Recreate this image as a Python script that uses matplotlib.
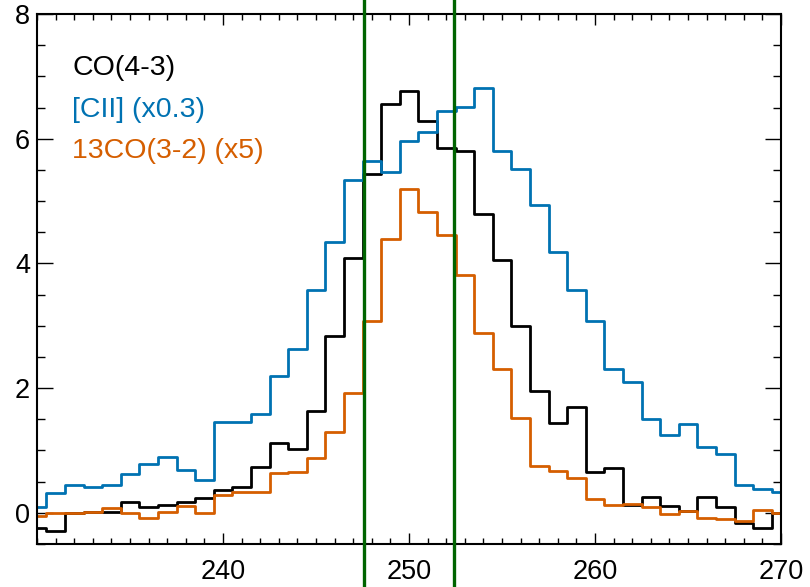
import numpy as np
import matplotlib
matplotlib.use('Agg')
import matplotlib.pyplot as plt
import matplotlib.transforms as mtransforms

plt.rcParams['font.family'] = ['Liberation Sans', 'DejaVu Sans']

# velocity channels (bin centres)
velocity = np.arange(230, 271, 1)

co43 = [-0.24, -0.29, 0.00, 0.02, 0.02, 0.18, 0.10, 0.13, 0.17, 0.24,
        0.37, 0.42, 0.74, 1.12, 1.03, 1.63, 2.83, 4.08, 5.44, 6.55,
        6.77, 6.29, 5.85, 5.80, 4.80, 4.06, 2.99, 1.95, 1.44, 1.70,
        0.66, 0.72, 0.13, 0.25, 0.11, 0.03, 0.25, 0.10, -0.17, -0.24,
        -0.01]

cii = [0.09, 0.31, 0.44, 0.42, 0.45, 0.63, 0.78, 0.89, 0.69, 0.52,
       1.45, 1.45, 1.58, 2.20, 2.62, 3.58, 4.35, 5.34, 5.64, 5.46,
       5.96, 6.11, 6.44, 6.51, 6.82, 5.81, 5.52, 4.93, 4.18, 3.58,
       3.07, 2.30, 2.09, 1.51, 1.24, 1.43, 1.05, 0.94, 0.45, 0.38,
       0.33]

co13 = [-0.05, 0.00, 0.00, 0.01, 0.07, 0.00, -0.08, 0.02, 0.11, 0.00,
        0.28, 0.33, 0.33, 0.64, 0.66, 0.88, 1.29, 1.92, 3.07, 4.39,
        5.19, 4.82, 4.45, 3.82, 2.88, 2.30, 1.52, 0.75, 0.67, 0.56,
        0.22, 0.13, 0.14, 0.09, -0.02, 0.03, -0.08, -0.10, -0.13, 0.05,
        -0.01]

labels = ['CO(4-3)', '[CII] (x0.3)', '13CO(3-2) (x5)']
colors = ['black', '#0072B2', '#D55E00']
vlines = [247.6, 252.4]

fig = plt.figure(figsize=(8.10, 5.87), dpi=100)
ax = fig.add_axes([0.0457, 0.0733, 0.9185, 0.9028])

for y, c in zip([co43, cii, co13], colors):
    ax.step(velocity, y, where='mid', color=c, lw=2.0)

ax.set_xlim(230, 270)
ax.set_ylim(-0.5, 8)

ax.set_xticks([240, 250, 260, 270])
ax.set_xticks(np.arange(230, 271, 1), minor=True)
ax.set_yticks([0, 2, 4, 6, 8])
ax.set_yticks(np.arange(-0.5, 8.01, 0.5), minor=True)

ax.tick_params(axis='both', which='both', direction='in', top=True, right=True,
               width=1.0, labelsize=19.5)
ax.tick_params(axis='x', which='major', length=8, pad=11)
ax.tick_params(axis='x', which='minor', length=4)
ax.tick_params(axis='y', which='major', length=11.5, pad=5)
ax.tick_params(axis='y', which='minor', length=6)
for s in ax.spines.values():
    s.set_linewidth(1.5)

# labels in the top left corner
for i, (lab, c) in enumerate(zip(labels, colors)):
    ax.text(231.9, 7.02 - 0.665 * i, lab, color=c, fontsize=20.5, va='baseline')

# green lines run over the whole figure height
trans = mtransforms.blended_transform_factory(ax.transData, fig.transFigure)
for xv in vlines:
    ax.plot([xv, xv], [0, 1], color='#006400', lw=2.4, transform=trans,
            clip_on=False, zorder=5)

fig.savefig('out.png', dpi=100)
